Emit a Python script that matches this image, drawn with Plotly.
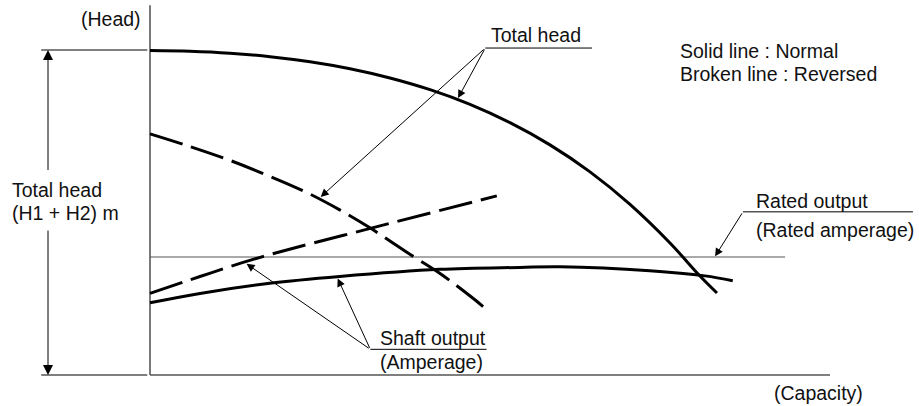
import plotly.graph_objects as go

# ---- data (capacity / head in arbitrary schematic units) ----
normal_head_q = [0, 5.88, 11.76, 17.65, 23.53, 29.41, 35.29, 41.18, 47.06, 52.94,
                 58.82, 64.71, 70.59, 76.47, 80.88, 83.38]
normal_head_h = [99.85, 99.63, 99.02, 97.94, 96.37, 94.22, 91.38, 87.78, 83.26, 77.63,
                 70.80, 62.49, 52.49, 40.62, 30.46, 25.23]

reversed_head_q = [0, 5.15, 11.3, 17.2, 22.8, 27.9, 32.4, 38.7, 42.6, 47.5, 49.3]
reversed_head_h = [74.2, 70.8, 66.4, 61.5, 56.4, 50.8, 45.2, 36.5, 31.3, 23.6, 20.5]

normal_shaft_q = [0, 7.35, 17.6, 27.9, 42.6, 54.4, 60.3, 73.5, 81.6, 85.7]
normal_shaft_h = [22.2, 25.1, 28.2, 30.3, 32.5, 33.1, 33.3, 32.1, 30.5, 29.0]

reversed_shaft_q = [0, 7.35, 16.2, 32.4, 51.0]
reversed_shaft_h = [25.1, 30.3, 36.2, 45.1, 55.1]

rated_q = [0, 93.4]
rated_h = [36.3, 36.3]

FONT = dict(family="Arial, Liberation Sans, sans-serif", size=19.5, color="#111")

fig = go.Figure()

def line(q, h, color="black", width=3, dash=None, shape="spline"):
    fig.add_trace(go.Scatter(x=q, y=h, mode="lines", hoverinfo="skip",
                             line=dict(color=color, width=width, dash=dash,
                                       shape=shape, smoothing=1)))

# axes / frame lines
line([0, 0], [0, 113.8], color="#333", width=1.3, shape="linear")
line([0, 100], [0, 0], color="#555", width=1.3, shape="linear")
line([-16.0, -0.4], [0, 0], color="#555", width=1.3, shape="linear")
line([-16.0, -0.4], [100, 100], color="#555", width=1.3, shape="linear")
line(rated_q, rated_h, color="#555", width=1.1, shape="linear")

# curves
line(normal_head_q, normal_head_h, width=3)
line(reversed_head_q, reversed_head_h, width=3, dash="34px,9px")
line(normal_shaft_q, normal_shaft_h, width=3)
line(reversed_shaft_q, reversed_shaft_h, width=3, dash="34px,9px")

# label underlines
line([49.3, 65.0], [100.6, 100.6], color="black", width=1, shape="linear")
line([32.4, 49.5], [7.9, 7.9], color="black", width=1, shape="linear")
line([87.2, 112.2], [50.2, 50.2], color="black", width=1, shape="linear")

ann = []

def arrow(x, y, ax, ay, size=1.6):
    ann.append(dict(x=x, y=y, ax=ax, ay=ay, xref="x", yref="y", axref="x", ayref="y",
                    text="", showarrow=True, arrowhead=2, arrowsize=size,
                    arrowwidth=1, arrowcolor="black"))

def text(t, x, y, xanchor="left"):
    ann.append(dict(x=x, y=y, xref="x", yref="y", text=t, showarrow=False,
                    xanchor=xanchor, yanchor="middle", font=FONT))

# leaders
arrow(45.3, 85.2, 49.3, 100.6)
arrow(25.1, 54.8, 49.3, 100.6)
arrow(14.2, 34.2, 32.4, 7.9)
arrow(27.6, 29.7, 32.4, 7.9)
arrow(83.1, 36.5, 87.2, 50.2)
# dimension arrow
arrow(-15.0, 100, -15.0, 62.6, size=2)
arrow(-15.0, 0, -15.0, 44.9, size=2)

text("Total head", 49.8, 104.6)
text("Shaft output", 33.6, 11.5)
text("(Amperage)", 33.6, 4.1)
text("Rated output", 88.8, 53.4)
text("(Rated amperage)", 88.8, 44.5)
text("Solid line : Normal", 77.7, 99.8)
text("Broken line : Reversed", 77.7, 92.6)
text("(Head)", -1.0, 109.5, xanchor="right")
text("(Capacity)", 91.4, -5.6)
text("Total head", -20.6, 56.9)
text("(H1 + H2) m", -20.6, 49.8)

fig.update_layout(
    width=919, height=406, margin=dict(l=0, r=0, t=0, b=0),
    paper_bgcolor="white", plot_bgcolor="white", showlegend=False,
    xaxis=dict(range=[-22.06, 113.09], visible=False, fixedrange=True),
    yaxis=dict(range=[-9.54, 115.38], visible=False, fixedrange=True),
    annotations=ann,
)

fig.write_html("out.html", config={"displayModeBar": False},
               post_script="document.body.style.margin='0';document.body.style.overflow='hidden';")
